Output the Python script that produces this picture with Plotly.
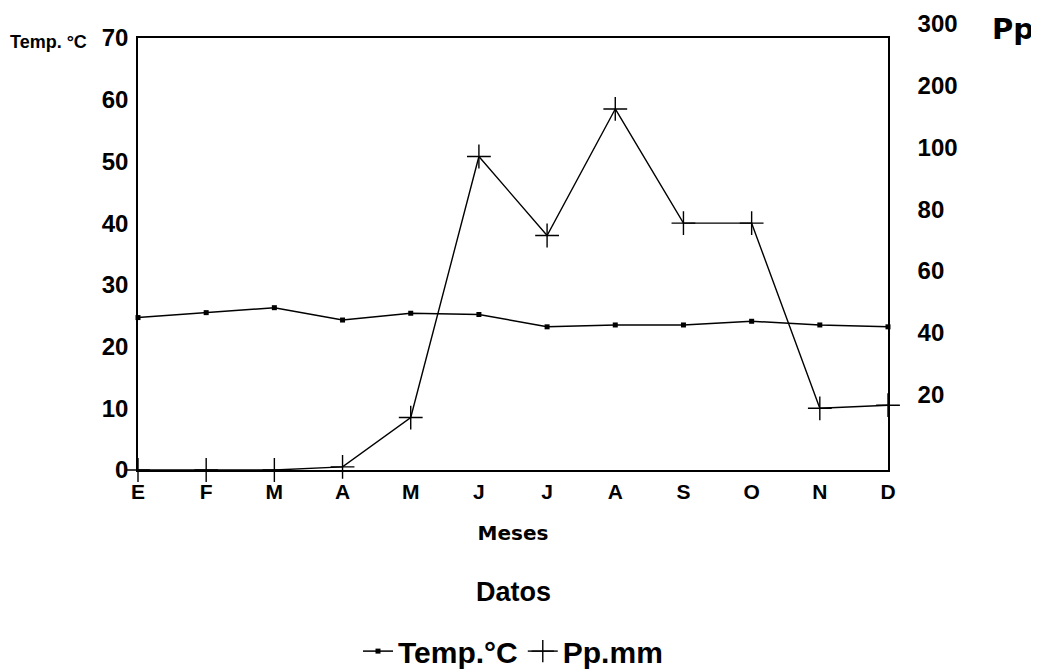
import plotly.graph_objects as go

months = ["E", "F", "M", "A", "M", "J", "J", "A", "S", "O", "N", "D"]
temp_c = [24.7, 25.5, 26.3, 24.3, 25.4, 25.2, 23.2, 23.5, 23.5, 24.1, 23.5, 23.2]
pp_mm = [0, 0, 0, 1, 17, 108, 76, 185, 80, 80, 20, 21]
temp_ticks = [0, 10, 20, 30, 40, 50, 60, 70]
pp_ticks_mm = [20, 40, 60, 80, 100, 200, 300]


def wl(mm):
    # Walter-Lieth scale: 2 mm per degree up to 100 mm, then 10 mm per degree
    return mm / 2 if mm <= 100 else 50 + (mm - 100) / 10


x = list(range(len(months)))
pp_scaled = [wl(v) for v in pp_mm]

FONT = "Liberation Sans"
WIDE = "DejaVu Sans"

fig = go.Figure()
fig.add_trace(go.Scatter(
    x=x, y=temp_c, name="Temp.°C", mode="lines+markers",
    line=dict(color="black", width=1.5),
    marker=dict(symbol="square", size=5, color="black"),
    cliponaxis=False,
))
fig.add_trace(go.Scatter(
    x=x, y=pp_scaled, name="Pp.mm", mode="lines+markers", yaxis="y2",
    line=dict(color="black", width=1.4),
    marker=dict(symbol="cross-thin", size=17, line=dict(color="black", width=1.4)),
    cliponaxis=False,
))

fig.update_layout(
    width=1031, height=663,
    margin=dict(l=130, r=151, t=30, b=201),
    paper_bgcolor="white", plot_bgcolor="white",
    font=dict(family=FONT, color="black"),
    showlegend=True,
    legend=dict(orientation="h", x=0.5, xanchor="center",
                yref="container", y=0.03, yanchor="middle",
                font=dict(family=FONT, size=30, color="black", weight="bold"), itemwidth=30),
    xaxis=dict(
        range=[0, 11], tickvals=x, ticktext=months, showgrid=False, zeroline=False,
        showline=True, linecolor="black", linewidth=1.5, mirror=True, ticks="",
        ticklabelstandoff=2, automargin=False,
        tickfont=dict(family=FONT, size=21, color="black", weight="bold"),
        title=dict(text="Meses", font=dict(family=WIDE, size=20, color="black", weight="bold"),
                   standoff=24),
    ),
    yaxis=dict(
        range=[0, 70], tickvals=temp_ticks, showgrid=False, zeroline=False,
        showline=True, linecolor="black", linewidth=1.5, ticks="", automargin=False,
        ticklabelstandoff=3,
        tickfont=dict(family=FONT, size=24, color="black", weight="bold"),
    ),
    yaxis2=dict(
        range=[0, 70], overlaying="y", side="right",
        tickvals=[wl(v) for v in pp_ticks_mm], ticktext=[str(v) for v in pp_ticks_mm],
        showgrid=False, zeroline=False, showline=True, linecolor="black", linewidth=1.5,
        ticks="", ticklabelstandoff=23, ticklabelshift=-14, automargin=False,
        tickfont=dict(family=FONT, size=24, color="black", weight="bold"),
    ),
    annotations=[
        dict(text="Temp. °C", xref="paper", yref="paper", x=-0.173, y=0.99, xanchor="left",
             yanchor="middle", showarrow=False,
             font=dict(family=FONT, size=18, color="black", weight="bold")),
        dict(text="Pp", xref="paper", yref="paper", x=1.136, y=1.02, xanchor="left",
             yanchor="middle", showarrow=False,
             font=dict(family=WIDE, size=29, color="black", weight="bold")),
        dict(text="Datos", xref="paper", yref="paper", x=0.5, y=-0.282, xanchor="center",
             yanchor="middle", showarrow=False,
             font=dict(family=FONT, size=27, color="black", weight="bold")),
    ],
)

fig.write_html("out.html")
